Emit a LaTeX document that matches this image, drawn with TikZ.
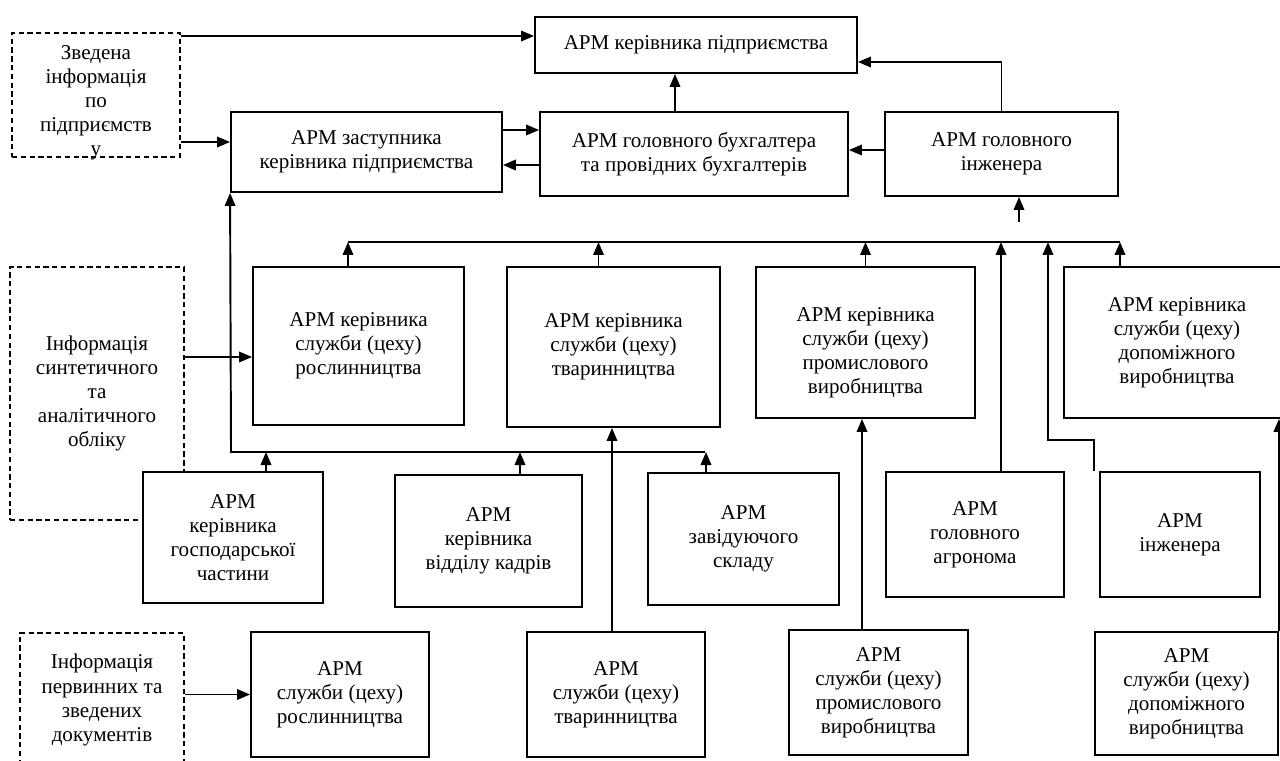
\documentclass[tikz,border=0pt]{standalone}
\usepackage{fontspec}
\setmainfont{Liberation Serif}
\usepackage{tikz}
\usetikzlibrary{arrows.meta}
\tikzset{%
  armBox/.style={%
    rectangle,
    draw=black,
    fill=white,
    line width=1.1pt,
    inner sep=0pt,
    align=center,
    font=\fontsize{12pt}{13.7pt}\selectfont
  },
  infoBox/.style={%
    armBox,
    dash pattern=on 3pt off 2pt
  },
  arrowLine/.style={%
    -{Triangle[length=2.6mm,width=2.1mm]},
    line width=1.1pt,
    color=black
  },
  busLine/.style={%
    line width=1.1pt,
    color=black
  }
}

\begin{document}
\begin{tikzpicture}[x=0.02cm,y=-0.02cm]
            \useasboundingbox (0,0) rectangle (1280,760);

            \node[armBox, minimum width=6.44cm, minimum height=1.12cm] (T) at (696,45) {АРМ керівника підприємства};
            \node[armBox, minimum width=5.42cm, minimum height=1.6cm] (Z) at (366.5,152) {АРМ заступника\\керівника підприємства};
            \node[armBox, minimum width=6.16cm, minimum height=1.68cm] (B) at (694,154) {АРМ головного бухгалтера\\та провідних бухгалтерів};
            \node[armBox, minimum width=4.66cm, minimum height=1.68cm] (G) at (1001.5,154) {АРМ головного\\інженера};
            \node[infoBox, minimum width=3.36cm, minimum height=2.48cm] (A) at (96,95) {\raisebox{0pt}[1.45cm][0.92cm]{\begin{tabular}{@{}c@{}}Зведена\\інформація\\по\\підприємств\\у\end{tabular}}};

            \node[infoBox, minimum width=3.48cm, minimum height=5.06cm] (C) at (97,393.5) {Інформація\\синтетичного\\та\\аналітичного\\обліку};
            \node[armBox, minimum width=4.22cm, minimum height=3.16cm] (R1) at (358.5,346) {АРМ керівника\\служби (цеху)\\рослинництва};
            \node[armBox, minimum width=4.26cm, minimum height=3.2cm] (R2) at (613.5,347) {АРМ керівника\\служби (цеху)\\тваринництва};
            \node[armBox, minimum width=4.38cm, minimum height=3.02cm] (R3) at (865.5,342.5) {\raisebox{0pt}[1.3cm][0.67cm]{\begin{tabular}{@{}c@{}}АРМ керівника\\служби (цеху)\\промислового\\виробництва\end{tabular}}};
            \node[armBox, minimum width=4.52cm, minimum height=3.02cm] (R4) at (1177,342.5) {АРМ керівника\\служби (цеху)\\допоміжного\\виробництва};

            \node[armBox, minimum width=3.6cm, minimum height=2.62cm] (H) at (233,537.5) {АРМ\\керівника\\господарської\\частини};
            \node[armBox, minimum width=3.74cm, minimum height=2.64cm] (K) at (488.5,541) {АРМ\\керівника\\відділу кадрів};
            \node[armBox, minimum width=3.82cm, minimum height=2.64cm] (S) at (743.5,539) {АРМ\\завідуючого\\складу};
            \node[armBox, minimum width=3.56cm, minimum height=2.5cm] (Ag) at (975,534.5) {АРМ\\головного\\агронома};
            \node[armBox, minimum width=3.2cm, minimum height=2.5cm] (En) at (1180,534.5) {АРМ\\інженера};

            \node[infoBox, minimum width=3.28cm, minimum height=2.68cm] (D) at (102,700) {Інформація\\первинних та\\зведених\\документів};
            \node[armBox, minimum width=3.56cm, minimum height=2.5cm] (P1) at (340,694.5) {АРМ\\служби (цеху)\\рослинництва};
            \node[armBox, minimum width=3.56cm, minimum height=2.5cm] (P2) at (616,694.5) {АРМ\\служби (цеху)\\тваринництва};
            \node[armBox, minimum width=3.58cm, minimum height=2.5cm] (P3) at (878.5,692.5) {АРМ\\служби (цеху)\\промислового\\виробництва};
            \node[armBox, minimum width=3.66cm, minimum height=2.46cm] (P4) at (1186.5,693.5) {АРМ\\служби (цеху)\\допоміжного\\виробництва};

            \coordinate (gIn) at (1019,222);
            \coordinate (busL) at (348,242);
            \coordinate (busR) at (1120,242);
            \coordinate (enStep) at (1048,440);
            \coordinate (busZ) at (231,452);
            \coordinate (busZR) at (705,452);

            \draw[arrowLine] ([yshift=-0.08cm]A.north east) -- ([yshift=-0.08cm]A.north east -| T.west);
            \draw[arrowLine] ([yshift=0.2cm]Z.west -| A.east) -- ([yshift=0.2cm]Z.west);
            \draw[arrowLine] ([yshift=0.44cm]Z.east) -- ([yshift=0.44cm]Z.east -| B.west);
            \draw[arrowLine] ([yshift=-0.26cm]Z.east -| B.west) -- ([yshift=-0.26cm]Z.east);
            \draw[arrowLine] ([xshift=-0.38cm]B.north) -- ([xshift=-0.38cm]B.north |- T.south);
            \draw[arrowLine] (G.north) |- ([yshift=-0.34cm]T.east);
            \draw[arrowLine] ([yshift=0.08cm]G.west) -- ([yshift=0.08cm]G.west -| B.east);
            \draw[arrowLine] (gIn) -- (gIn |- G.south);

            \draw[busLine] (busL) -- (busR);
            \draw[arrowLine] (R1.north -| busL) -- (busL);
            \draw[arrowLine] ([xshift=-0.3cm]R2.north) -- ([xshift=-0.3cm]R2.north |- busL);
            \draw[arrowLine] (R3.north) -- (R3.north |- busL);
            \draw[arrowLine] (R4.north -| busR) -- (busR);
            \draw[arrowLine] ([xshift=0.52cm]Ag.north) -- ([xshift=0.52cm]Ag.north |- busL);
            \draw[arrowLine] ([xshift=-0.1cm]En.north west) |- (enStep) -- (enStep |- busL);

            \draw[arrowLine] (busZR) -- (busZ) -- (Z.south west);
            \draw[arrowLine] ([xshift=0.66cm]H.north) -- ([xshift=0.66cm]H.north |- busZ);
            \draw[arrowLine] ([xshift=0.63cm]K.north) -- ([xshift=0.63cm]K.north |- busZ);
            \draw[arrowLine] ([xshift=-0.75cm]S.north) -- ([xshift=-0.75cm]S.north |- busZ);

            \draw[arrowLine] ([yshift=-0.22cm]R1.west -| C.east) -- ([yshift=-0.22cm]R1.west);
            \draw[arrowLine] (D.east |- P1.west) -- (P1.west);
            \draw[arrowLine] ([xshift=-0.08cm]P2.north) -- ([xshift=-0.08cm]P2.north |- R2.south);
            \draw[arrowLine] ([xshift=-0.33cm]P3.north) -- ([xshift=-0.33cm]P3.north |- R3.south);
            \draw[arrowLine] (P4.north east) -- (P4.north east |- R4.south);
        \end{tikzpicture}
\end{document}
